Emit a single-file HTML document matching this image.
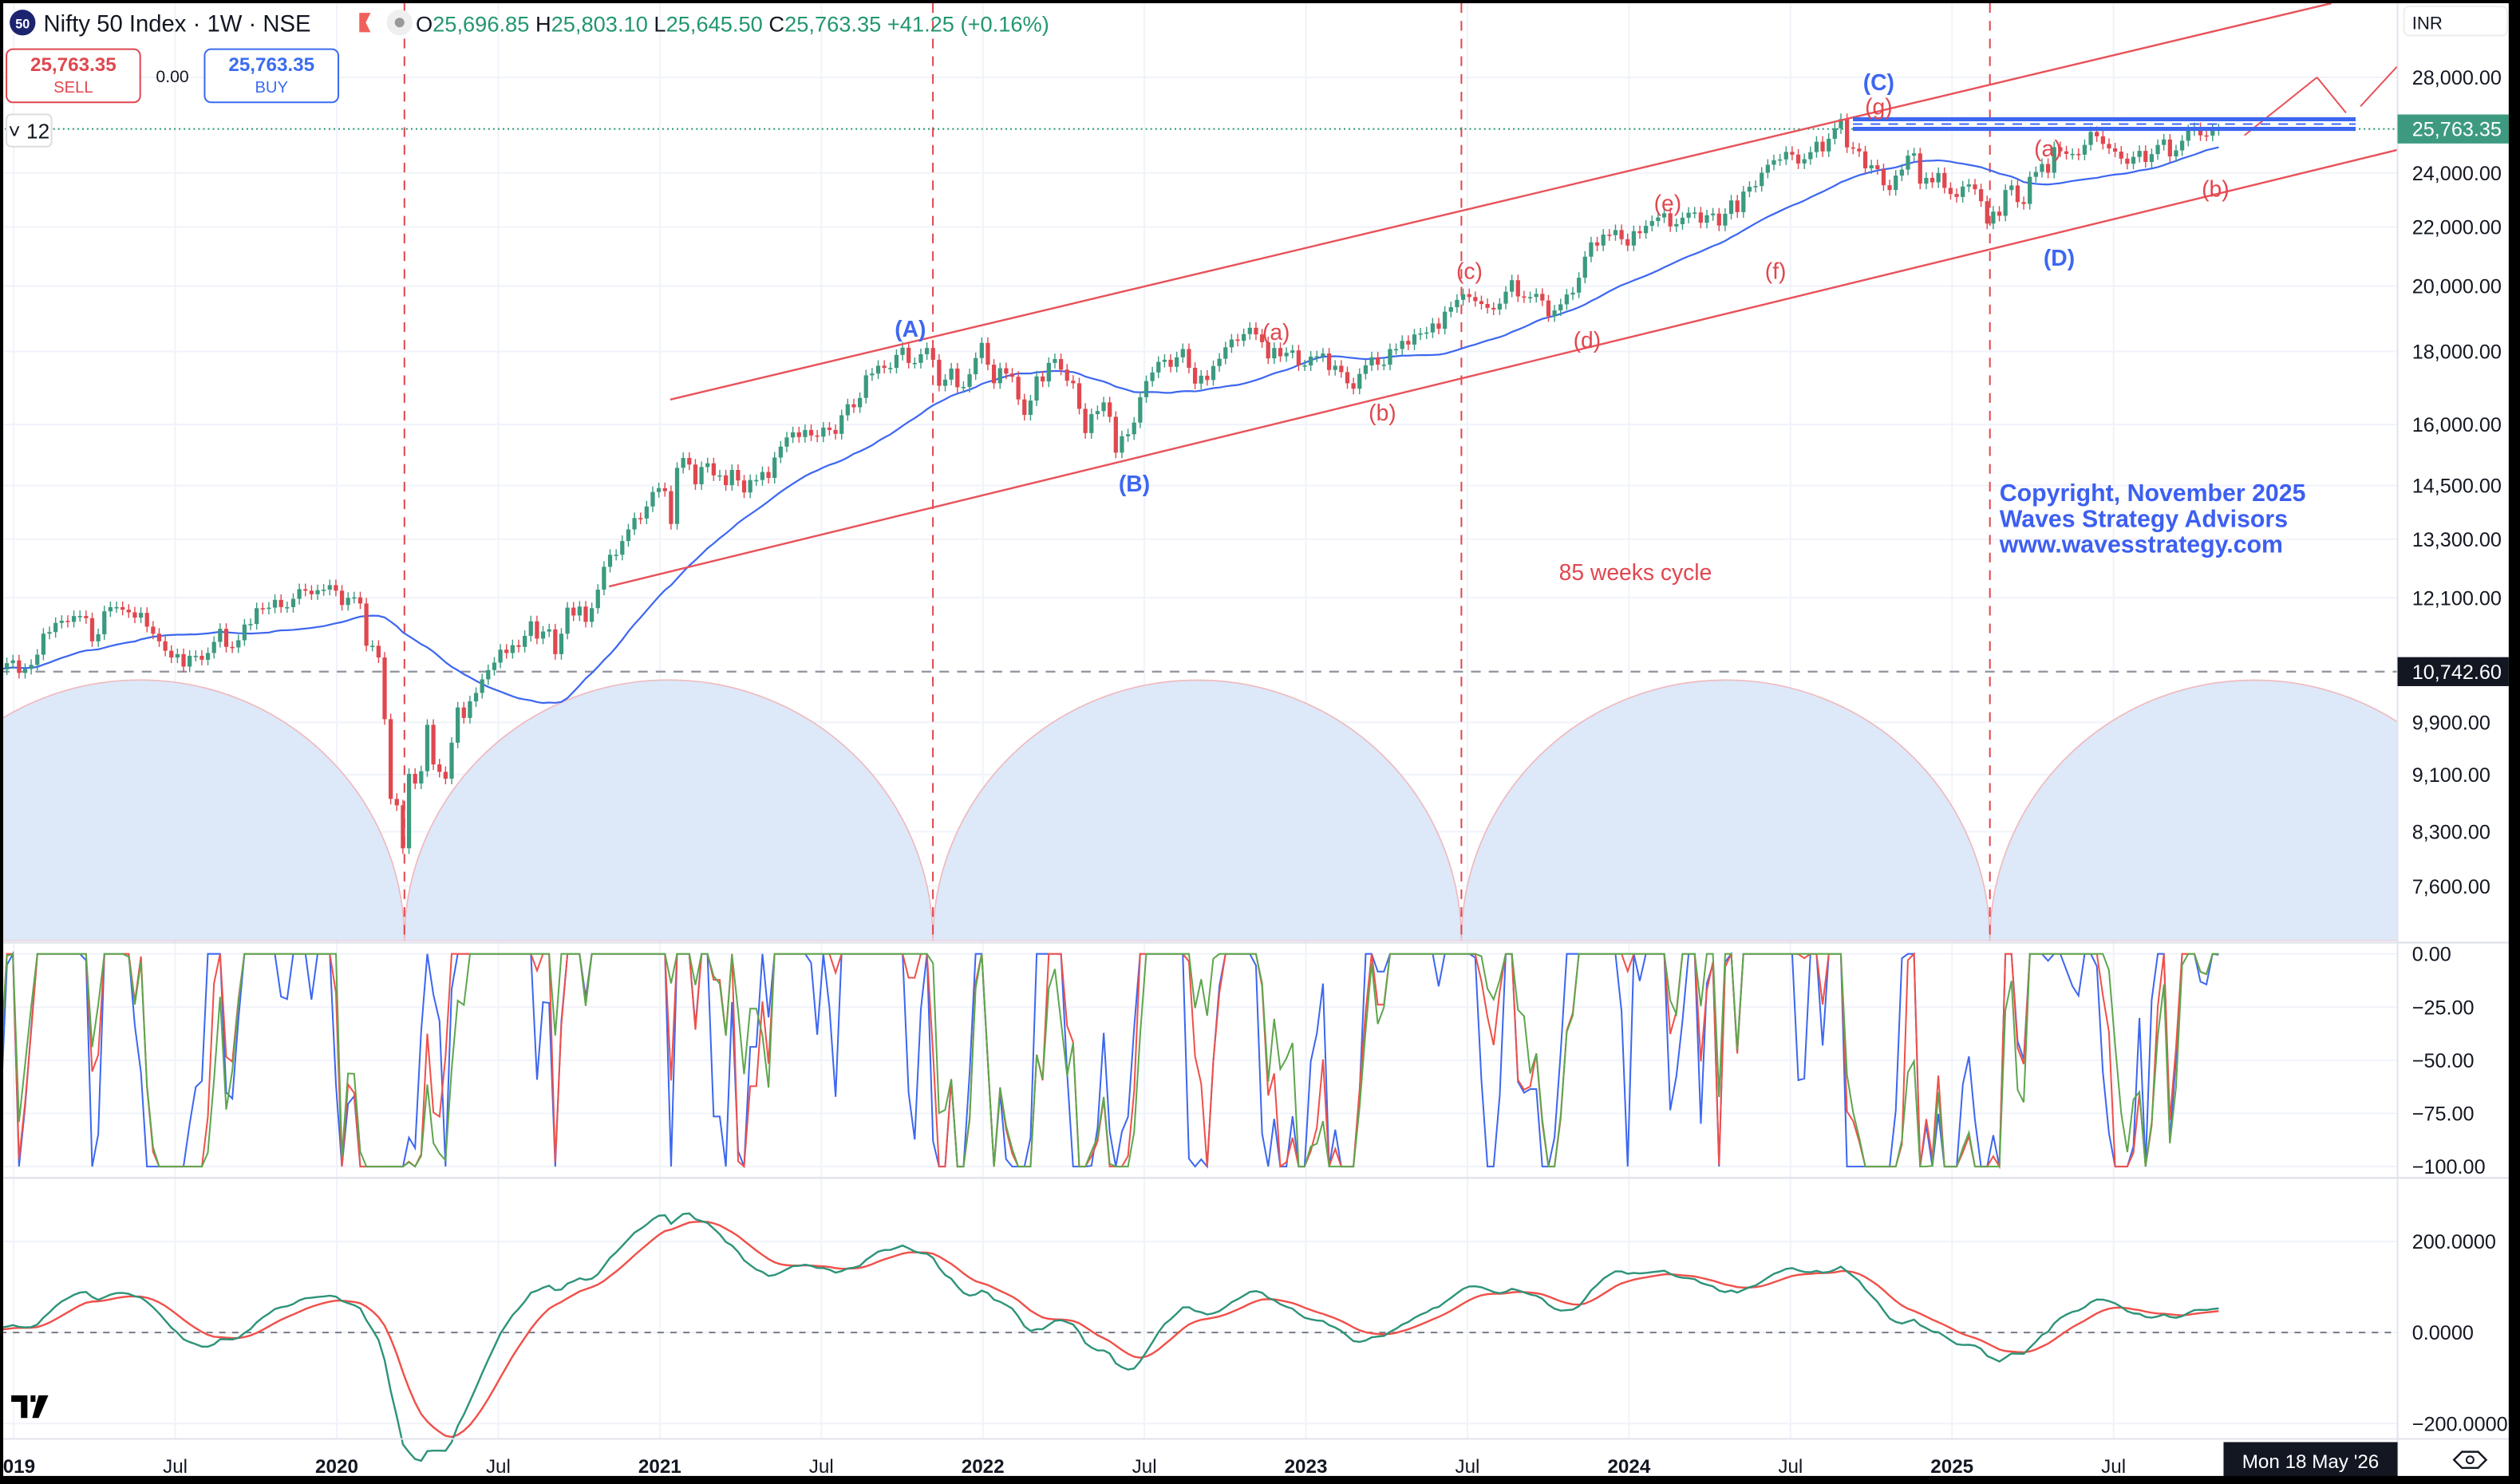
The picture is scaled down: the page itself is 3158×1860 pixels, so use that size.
<!DOCTYPE html>
<html><head><meta charset="utf-8"><style>
html,body{margin:0;padding:0;background:#fff;}
svg{display:block;font-family:"Liberation Sans",sans-serif;}
</style></head><body>
<svg id="chart" width="3158" height="1860" viewBox="0 0 1564 921" preserveAspectRatio="none" xmlns="http://www.w3.org/2000/svg">
<rect x="0" y="0" width="1564" height="921" fill="#fff"/>
<g id="grid"></g>
<g id="arcs"></g>
<g id="cyc"></g>
<g id="candles"></g>
<g id="over"></g>
<g id="osc"></g>
<g id="macd"></g>
<g id="axes"></g>
<g id="hdr">
  <circle cx="14" cy="14" r="8" fill="#1c2470"/>
  <text x="14" y="17.5" font-size="8" fill="#fff" text-anchor="middle" font-weight="bold">50</text>
  <text x="27" y="19.5" font-size="14.5" fill="#131722">Nifty 50 Index · 1W · NSE</text>
  <path d="M223,8 h7 l-3,6 l3,6 h-7z" fill="#f0605a"/>
  <circle cx="248" cy="14" r="8" fill="#efefef"/>
  <circle cx="248" cy="14" r="3" fill="#999"/>
  <text x="258" y="19.5" font-size="13.5"><tspan fill="#131722">O</tspan><tspan fill="#22966f">25,696.85 </tspan><tspan fill="#131722">H</tspan><tspan fill="#22966f">25,803.10 </tspan><tspan fill="#131722">L</tspan><tspan fill="#22966f">25,645.50 </tspan><tspan fill="#131722">C</tspan><tspan fill="#22966f">25,763.35 +41.25 (+0.16%)</tspan></text>
  <rect x="4" y="30.5" width="83" height="33" rx="4" fill="#fff" stroke="#e0474f" stroke-width="1"/>
  <text x="45.5" y="44" font-size="12" fill="#e0474f" text-anchor="middle" font-weight="bold">25,763.35</text>
  <text x="45.5" y="57.5" font-size="10" fill="#e0474f" text-anchor="middle">SELL</text>
  <text x="107" y="51" font-size="10.5" fill="#131722" text-anchor="middle">0.00</text>
  <rect x="127" y="30.5" width="83" height="33" rx="4" fill="#fff" stroke="#3b6cf0" stroke-width="1"/>
  <text x="168.5" y="44" font-size="12" fill="#3b6cf0" text-anchor="middle" font-weight="bold">25,763.35</text>
  <text x="168.5" y="57.5" font-size="10" fill="#3b6cf0" text-anchor="middle">BUY</text>
  <rect x="4" y="71" width="28" height="20" rx="3" fill="#fff" stroke="#ddd"/>
  <text x="18" y="86" font-size="13" fill="#131722" text-anchor="middle">˅ 12</text>
</g>
<g id="frame">
  <rect x="0" y="0" width="1564" height="2" fill="#000"/>
  <rect x="0" y="0" width="2" height="921" fill="#000"/>
  <rect x="1557" y="0" width="7" height="921" fill="#000"/>
  <rect x="0" y="916" width="1564" height="5" fill="#000"/>
</g>
</svg>
<script>
const NS="http://www.w3.org/2000/svg";
// Weekly closes, Dec 2018 .. Nov 2025
const closes=[10700,10800,10750,10860,
10730,10800,10900,10780, 10890,10940,10720,10790, 10860,11040,11420,11450,11620, 11660,11640,11750,11750, 11710,11280,11410,11840,11920, 11920,11870,11820,11720, 11810,11550,11420,11280,11110, 10990,11050,10830,11020,11020, 10950,11070,11270,11510,11180, 11170,11300,11590,11600, 11900,11890,11910,12060,11920, 11920,12080,12270,12240,12170,
12250,12260,12350,12240,11960, 12100,12110,11990,11200, 11200,10990,9950,8750,8660, 8080,9110,8970,9150,9860, 9250,9140,9040,9580, 10140,9970,10240,10380, 10610,10770,10900,11130,11070, 11210,11180,11380,11650, 11330,11460,11500,11050,11420, 11910,11760,11930,11640, 11900,12260,12720,12970,12970, 13260,13510,13760,13750,
14020,14350,14440,14370,13630, 14920,15160,15000,14530, 14940,15030,14740,14740,14510, 14870,14620,14340,14630,14630, 14820,14680,15170,15440, 15670,15800,15680,15860, 15720,15690,15920,15860,15760, 16240,16530,16450,16700, 17320,17370,17590,17530, 17530,17900,18110,17670,17670, 17920,18100,17760,17030, 17200,17510,16990,17000,17350,
17810,18250,17620,17100, 17520,17370,17280,16660, 16250,16630,17290,17150, 17670,17780,17480,17170,17100, 16410,15780,16270,16350, 16580,16200,15290,15700, 15750,16050,16720,17160, 17400,17700,17760,17560, 17830,18070,17530,17090, 17310,17190,17580,17790, 18120,18350,18310,18510, 18700,18500,18270,17800,18100,
17860,17960,18030,17600,17600, 17850,17860,17940,17470, 17590,17410,17100,16950,17360, 17600,17830,17620,17620,18070, 18070,18310,18200,18500, 18530,18560,18830,18670,19190, 19330,19560,19740,19650, 19520,19430,19310,19260,19440, 19820,20190,19670,19640, 19650,19750,19540,19050, 19230,19420,19730,19790,20270, 20970,21460,21350,21730,
21710,21890,21570,21350, 21850,21780,22040,22210,22340, 22490,22020,22100,22330, 22510,22520,22150,22420, 22480,22050,22470,22960,22530, 23290,23470,23500,24010, 24320,24500,24530,24830, 24720,24370,24540,24820,25240, 24850,25360,25790,26180, 25010,24960,24850,24180,24300, 24150,23530,23350,23900,24130, 24680,24770,23590,23810,23640,
24000,23430,23200,23090,23480, 23560,23380,22930,22120, 22550,22400,23350,23520, 22900,22830,23850,24040, 24350,24010,25020,24850,24750, 24750,24720,25110,25640, 25460,25150,24970,24840, 24560,24360,24630,24870,24430, 24740,25110,25330,24650, 24890,25280,25710,25800, 25500,25490,25720,25763];
const priceTicks=[28000,24000,22000,20000,18000,16000,14500,13300,12100,9900,9100,8300,7600];
const priceTickLabels=["28,000.00","24,000.00","22,000.00","20,000.00","18,000.00","16,000.00","14,500.00","13,300.00","12,100.00","9,900.00","9,100.00","8,300.00","7,600.00"];
const oscTicks=[0,-25,-50,-75,-100];
const oscTickLabels=["0.00","−25.00","−50.00","−75.00","−100.00"];
const macdTicks=[200,0,-200];
const macdTickLabels=["200.0000","0.0000","−200.0000"];
const timeLabels=["2019","Jul","2020","Jul","2021","Jul","2022","Jul","2023","Jul","2024","Jul","2025","Jul"];
const timeYears=[2019,2019.5,2020,2020.5,2021,2021.5,2022,2022.5,2023,2023.5,2024,2024.5,2025,2025.5];
const lastPrice=25763.35, hLevel=10742.60;

const N=closes.length, PLOT_R=1488, X0=-26, XLAST=1377;
const xOf=i=>X0+i*(XLAST-X0)/(N-1);
const xYear=t=>209+(t-2020)*200.5;
const LN28=Math.log(28000);
const yP=p=>48+(LN28-Math.log(p))*385;
const yO=v=>592+(-v)*1.32;
const yM=v=>827-v*0.2825;

function mk(parent,tag,attrs){const e=document.createElementNS(NS,tag);for(const k in attrs)e.setAttribute(k,attrs[k]);document.getElementById(parent).appendChild(e);return e;}
function path(pts){return pts.map((p,i)=>(i?'L':'M')+p[0].toFixed(1)+','+p[1].toFixed(1)).join('');}

const opens=closes.map((c,i)=>i?closes[i-1]:c*0.995);
const highs=closes.map((c,i)=>Math.max(c,opens[i])*1.009);
const lows=closes.map((c,i)=>Math.min(c,opens[i])*0.991);

priceTicks.forEach(p=>{const g=mk('grid','line',{x1:0,x2:PLOT_R,y1:yP(p),y2:yP(p),stroke:'#f0f3fa','stroke-width':1});

});
timeYears.forEach(t=>{const g=mk('grid','line',{x1:xYear(t),x2:xYear(t),y1:0,y2:893,stroke:'#f0f3fa','stroke-width':1});

});
oscTicks.forEach(v=>{const g=mk('grid','line',{x1:0,x2:PLOT_R,y1:yO(v),y2:yO(v),stroke:'#f0f3fa'});

});
macdTicks.forEach(v=>{const g=mk('grid','line',{x1:0,x2:PLOT_R,y1:yM(v),y2:yM(v),stroke:'#f0f3fa'});

});

const cyc=[251,579,907,1235];
const clip=mk('arcs','clipPath',{id:'mainclip'});
const cr=document.createElementNS(NS,'rect');cr.setAttribute('x',0);cr.setAttribute('y',0);cr.setAttribute('width',PLOT_R);cr.setAttribute('height',584);clip.appendChild(cr);
[-77,251,579,907,1235].forEach(x0=>{const a=mk('arcs','path',{d:`M${x0},584 A164,162 0 0 1 ${x0+328},584 Z`,fill:'#dde8f9',stroke:'#f0b8bc','stroke-width':0.8,'clip-path':'url(#mainclip)'});

});
cyc.forEach(x=>{const l=mk('cyc','line',{x1:x,x2:x,y1:2,y2:584,stroke:'#e0474f','stroke-width':1,'stroke-dasharray':'6,5'});

});

let hl=mk('cyc','line',{x1:0,x2:PLOT_R,y1:yP(hLevel),y2:yP(hLevel),stroke:'#9598a1','stroke-width':1.2,'stroke-dasharray':'6,5'});


let pl=mk('cyc','line',{x1:0,x2:PLOT_R,y1:yP(lastPrice),y2:yP(lastPrice),stroke:'#22966f','stroke-width':1,'stroke-dasharray':'1,2'});



const ma=[];for(let i=0;i<N;i++){const s=Math.max(0,i-29);let t=0;for(let j=s;j<=i;j++)t+=closes[j];ma.push(t/(i-s+1));}
let mal=mk('candles','path',{d:path(ma.map((v,i)=>[xOf(i),yP(v)]).filter(p=>p[0]>=0)),fill:'none',stroke:'#3d67f0','stroke-width':1.1});



for(let i=0;i<N;i++){const x=xOf(i);if(x<1)continue;const up=closes[i]>=opens[i];const col=up?'#3b9a7f':'#e0474f';
const w=mk('candles','line',{x1:x,x2:x,y1:yP(highs[i]),y2:yP(lows[i]),stroke:col,'stroke-width':0.7});


const yt=yP(Math.max(opens[i],closes[i])),yb=yP(Math.min(opens[i],closes[i]));
const b=mk('candles','rect',{x:x-1.3,y:yt,width:2.6,height:Math.max(0.8,yb-yt),fill:col});

}

const seg=(x1,y1,x2,y2,c,w,n)=>{const l=mk('over','line',{x1,y1,x2,y2,stroke:c,'stroke-width':w});return l;};
seg(416,248,1447,2,'#e8525a',1.2,'channel-upper-line');
seg(378,364,1488,93,'#e8525a',1.2,'channel-lower-line');
seg(1393,84,1438,48,'#e8525a',1,'projection-line-1');
seg(1438,48,1456,70,'#e8525a',1,'projection-line-2');
seg(1465,66,1488,41,'#e8525a',1,'projection-line-3');
seg(1150,74,1462,74,'#3d67f0',2.5,'resistance-zone-top');
seg(1150,80,1462,80,'#3d67f0',2.5,'resistance-zone-bottom');
const dz=seg(1150,77,1462,77,'#3d67f0',1,'resistance-zone-mid');dz.setAttribute('stroke-dasharray','6,5');
const labels=[["(A)",565,209,'#3d67f0',1],["(B)",704,305,'#3d67f0',1],["(C)",1166,56,'#3d67f0',1],["(D)",1278,165,'#3d67f0',1],
["(a)",792,211,'#e0474f',0],["(b)",858,261,'#e0474f',0],["(c)",912,173,'#e0474f',0],["(d)",985,216,'#e0474f',0],["(e)",1035,131,'#e0474f',0],["(f)",1102,173,'#e0474f',0],["(g)",1166,71,'#e0474f',0],["(a)",1271,97,'#e0474f',0],["(b)",1375,122,'#e0474f',0]];
labels.forEach(l=>{const t=mk('over','text',{x:l[1],y:l[2],'font-size':14,fill:l[3],'text-anchor':'middle','font-weight':l[4]?'bold':'normal'});t.textContent=l[0];

});
let ct=mk('over','text',{x:1015,y:360,'font-size':14,fill:'#e0474f','text-anchor':'middle'});ct.textContent='85 weeks cycle';


["Copyright, November 2025","Waves Strategy Advisors","www.wavesstrategy.com"].forEach((s,k)=>{const t=mk('over','text',{x:1241,y:311+k*16,'font-size':15,fill:'#3d5ff0','font-weight':'bold'});t.textContent=s;

});

function wr(n,k){return closes.map((c,i)=>{const s=Math.max(0,i-n+1);let hi=-1e9,lo=1e9;for(let j=s;j<=i;j++){hi=Math.max(hi,highs[j]);lo=Math.min(lo,lows[j]);}
let r=-100*(hi-c)/Math.max(1,hi-lo);r=(r+50)*k-50;return Math.max(-100,Math.min(0,r));});}
const oscBlue=wr(6,2.2), oscRed=wr(10,2.0), oscGreen=wr(14,1.9);
[[oscBlue,'#3d67f0','osc-fast-line'],[oscRed,'#f0504a','osc-mid-line'],[oscGreen,'#5ea64e','osc-slow-line']].forEach(s=>{
const p=mk('osc','path',{d:path(s[0].map((v,i)=>[xOf(i),yO(v)]).filter(q=>q[0]>=0)),fill:'none',stroke:s[1],'stroke-width':1});

});

function ema(a,n){const k=2/(n+1);const o=[];a.forEach((v,i)=>o.push(i?v*k+o[i-1]*(1-k):v));return o;}
const e12=ema(closes,12),e26=ema(closes,26);
const macdLine=e12.map((v,i)=>(v-e26[i])/e26[i]*100*38);
const signalLine=ema(macdLine,9);
let zl=mk('macd','line',{x1:0,x2:PLOT_R,y1:yM(0),y2:yM(0),stroke:'#787b86','stroke-dasharray':'4,4','stroke-width':1});


[[signalLine,'#f0504a','macd-signal-line'],[macdLine,'#2e937a','macd-line']].forEach(s=>{
const p=mk('macd','path',{d:path(s[0].map((v,i)=>[xOf(i),yM(v)]).filter(q=>q[0]>=0)),fill:'none',stroke:s[1],'stroke-width':1.2});

});

const A='axes';
const ax=mk(A,'rect',{x:PLOT_R,y:0,width:76,height:921,fill:'#fff'});
mk(A,'line',{x1:PLOT_R,x2:PLOT_R,y1:0,y2:921,stroke:'#e0e3eb'});
mk(A,'line',{x1:0,x2:1564,y1:585,y2:585,stroke:'#e0e3eb','stroke-width':1.2});
mk(A,'line',{x1:0,x2:1564,y1:731,y2:731,stroke:'#e0e3eb','stroke-width':1.2});
mk(A,'line',{x1:0,x2:1564,y1:893,y2:893,stroke:'#e0e3eb'});
const inr=mk(A,'rect',{x:1492,y:4,width:64,height:18,rx:3,fill:'#fff',stroke:'#eee'});
let it=mk(A,'text',{x:1497,y:18,'font-size':11,fill:'#131722'});it.textContent='INR';
priceTicks.forEach((p,k)=>{const t=mk(A,'text',{x:1497,y:yP(p)+4.5,'font-size':12.5,fill:'#131722'});t.textContent=priceTickLabels[k];

});
oscTicks.forEach((v,k)=>{const t=mk(A,'text',{x:1497,y:yO(v)+4.5,'font-size':12.5,fill:'#131722'});t.textContent=oscTickLabels[k];

});
macdTicks.forEach((v,k)=>{const t=mk(A,'text',{x:1497,y:yM(v)+4.5,'font-size':12.5,fill:'#131722'});t.textContent=macdTickLabels[k];

});
let lb=mk(A,'rect',{x:1488,y:yP(lastPrice)-9,width:69,height:18,fill:'#3d9a80'});
let lt=mk(A,'text',{x:1497,y:yP(lastPrice)+4.5,'font-size':12.5,fill:'#fff'});lt.textContent='25,763.35';
let hb=mk(A,'rect',{x:1488,y:yP(hLevel)-9,width:69,height:18,fill:'#131722'});
let ht=mk(A,'text',{x:1497,y:yP(hLevel)+4.5,'font-size':12.5,fill:'#fff'});ht.textContent='10,742.60';
timeLabels.forEach((s,k)=>{const t=mk(A,'text',{x:xYear(timeYears[k]),y:914,'font-size':12,fill:'#131722','text-anchor':'middle','font-weight':s==='Jul'?'normal':'bold'});t.textContent=s;

});
let db=mk(A,'rect',{x:1380,y:895,width:108,height:22,fill:'#131722'});
let dt=mk(A,'text',{x:1434,y:911,'font-size':12,fill:'#fff','text-anchor':'middle'});dt.textContent="Mon 18 May '26";
let gear=mk(A,'path',{d:'M1523,906 l5,-5 h10 l5,5 l-5,5 h-10z',fill:'none',stroke:'#131722','stroke-width':1.2});
mk(A,'circle',{cx:1533,cy:906,r:2.2,fill:'none',stroke:'#131722'});
let logo=mk(A,'path',{d:'M7,866 h10 v14 h-4 v-10 h-6z M19,866 h3 v4 h-3z M24,866 h6 l-6,14 h-4z',fill:'#000'});
</script>
</body></html>
